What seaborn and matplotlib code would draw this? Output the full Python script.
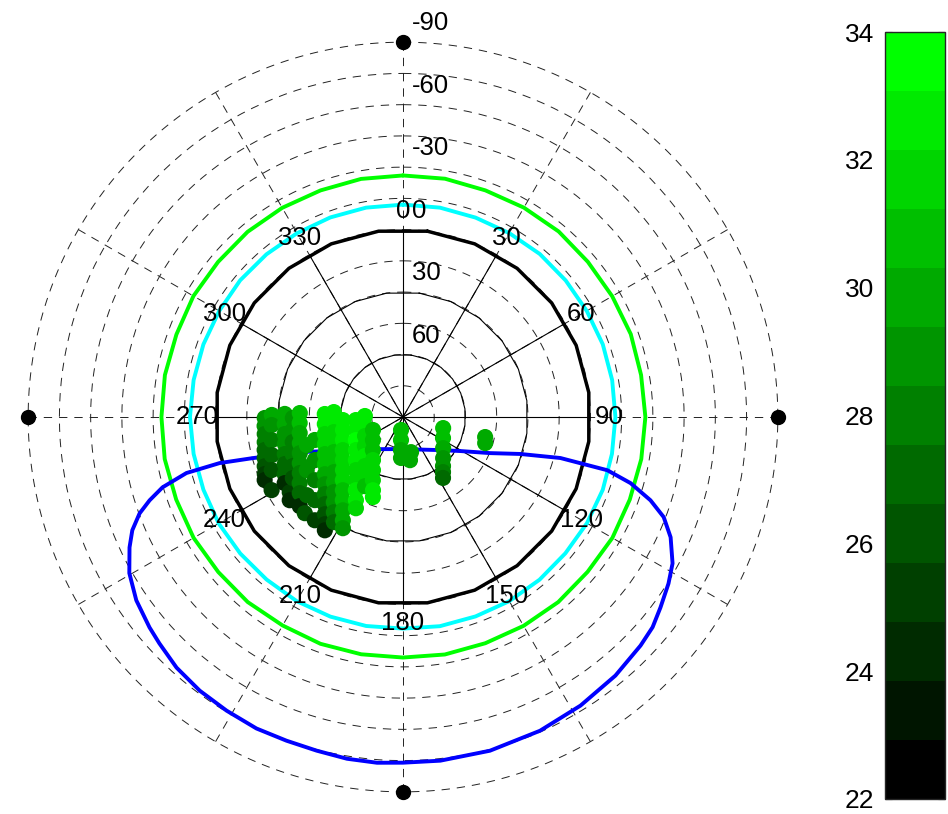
import numpy as np
import pandas as pd
import matplotlib
matplotlib.use('Agg')
import matplotlib.pyplot as plt
import seaborn as sns
from matplotlib.colors import ListedColormap, Normalize
from matplotlib.cm import ScalarMappable

sns.set_style('white')
plt.rcParams['font.family'] = ['Liberation Sans', 'DejaVu Sans']
plt.rcParams['lines.scale_dashes'] = False
plt.rcParams['text.color'] = 'black'
plt.rcParams['ytick.color'] = 'black'
plt.rcParams['xtick.color'] = 'black'

# observed points: azimuth (deg, clockwise from north), elevation (deg), value
dot_az = [269.6, 266.3, 263.0, 259.7, 256.6, 253.5, 250.4, 247.6, 245.5,
          270.9, 266.5, 260.0, 253.8, 248.0, 240.9,
          271.5, 266.6, 261.8, 257.1, 252.6, 248.3, 244.2, 240.8,
          236.4, 233.7,
          269.5, 263.3, 257.2, 251.4, 246.0, 241.0,
          272.2, 266.7, 261.2, 255.8, 250.7, 245.9, 241.5, 237.4, 233.6, 229.2,
          253.7, 241.1, 230.9, 225.6,
          255.4, 244.0, 234.4, 226.7, 220.5,
          272.2, 264.9, 257.7, 250.9, 244.6, 238.9, 233.8, 229.3, 225.4, 221.9, 218.8, 216.1, 214.6,
          274.1, 265.9, 257.7, 250.1, 243.1, 236.9, 231.4, 226.7, 222.6, 219.1, 216.0, 213.3,
          267.1, 257.8, 249.0, 241.2, 234.4, 228.5, 223.6, 219.4, 215.9, 212.8, 210.2, 208.4,
          266.3, 254.5, 243.9, 234.9, 227.5, 221.6, 216.7, 212.8, 209.5, 207.3,
          271.5, 256.7, 243.4, 232.7, 224.3, 217.8, 212.8, 208.8,
          246.6, 232.5, 222.3, 214.9, 209.5, 205.5, 202.3, 200.6,
          188.7, 185.0, 183.5, 182.8, 167.1, 170.8,
          105.4, 117.7, 127.8, 135.7, 140.8, 144.0, 146.7,
          103.7, 107.6]
dot_el = [23.6, 23.4, 23.1, 22.5, 21.7, 20.7, 19.5, 18.2, 17.0,
          27.0, 26.8, 26.0, 24.4, 22.0, 17.8,
          33.2, 33.1, 32.6, 31.8, 30.5, 28.9, 26.9, 24.9,
          24.7, 22.5,
          37.1, 36.7, 35.7, 34.1, 32.0, 29.5,
          40.4, 40.3, 39.8, 38.9, 37.5, 35.7, 33.6, 31.1, 28.4, 24.5,
          41.9, 37.2, 30.5, 24.0,
          46.2, 42.9, 37.9, 31.8, 24.8,
          52.4, 52.3, 51.6, 50.3, 48.5, 46.2, 43.5, 40.5, 37.3, 33.8, 30.1, 26.3, 23.9,
          56.7, 56.7, 56.0, 54.7, 52.8, 50.4, 47.6, 44.4, 41.0, 37.3, 33.5, 29.6,
          61.1, 60.5, 59.1, 57.0, 54.5, 51.5, 48.1, 44.5, 40.7, 36.7, 32.6, 29.3,
          67.3, 66.5, 64.8, 62.4, 59.3, 55.9, 52.2, 48.2, 44.1, 40.7,
          71.7, 71.2, 69.6, 67.0, 63.8, 60.2, 56.2, 52.1,
          74.3, 71.8, 68.5, 64.8, 60.7, 56.4, 52.0, 48.9,
          83.7, 78.9, 74.1, 70.3, 72.7, 69.0,
          70.0, 68.3, 65.6, 62.4, 59.6, 57.3, 55.0,
          49.4, 48.6]
dot_val = [29, 29, 28, 28, 27, 27, 26, 25, 24,
           30, 29, 28, 27, 26, 25,
           30, 30, 29, 29, 28, 27, 27, 24,
           25, 24,
           29, 29, 28, 28, 27, 26,
           31, 31, 30, 30, 29, 29, 28, 28, 27, 24,
           30, 29, 27, 26,
           30, 29, 28, 27, 25,
           33, 33, 32, 32, 31, 31, 30, 29, 28, 27, 26, 25, 24,
           33, 33, 32, 32, 31, 31, 30, 30, 29, 29, 28, 27,
           33, 33, 33, 32, 32, 32, 32, 31, 31, 30, 30, 29,
           33, 33, 34, 33, 33, 32, 32, 33, 33, 32,
           33, 33, 32, 32, 33, 32, 32, 31,
           31, 31, 31, 32, 32, 32, 33, 33,
           31, 31, 30, 30, 30, 30,
           31, 31, 30, 29, 29, 28, 27,
           30, 30]

# blue contour
blue_az = [180.0, 131.7, 120.8, 112.5, 107.5, 104.6, 104.6, 104.6, 106.2, 108.6,
           111.0, 114.2, 118.5, 122.1, 126.5, 130.1, 133.9, 140.6, 148.4, 156.4,
           165.4, 173.8, 180.0, 184.3, 189.3, 194.5, 199.8, 205.2, 211.0, 216.6,
           222.1, 227.1, 230.3, 235.5, 240.3, 244.5, 247.3, 249.9, 251.8, 253.7,
           255.5, 255.9, 254.7, 251.2, 238.1, 215.7, 180.0]
blue_el = [74.6, 66.1, 58.1, 44.7, 31.0, 11.9, 2.0, -11.4, -23.8, -35.4,
           -44.1, -50.9, -57.3, -60.5, -63.8, -66.7, -68.3, -70.7, -72.7, -74.4,
           -75.6, -76.0, -76.0, -76.5, -76.3, -75.5, -75.2, -75.3, -74.5, -73.7,
           -72.2, -69.7, -68.2, -65.4, -61.3, -55.5, -50.9, -44.7, -38.1, -30.3,
           -17.4, -0.8, 15.2, 37.6, 60.0, 71.0, 74.6]

# cyan and green rings
ring_az = [0, 10, 20, 30, 40, 50, 60, 70, 80, 90, 100, 110, 120, 130, 140, 150, 160, 170, 180,
           190, 200, 210, 220, 230, 240, 250, 260, 270, 280, 290, 300, 310, 320, 330, 340, 350, 360]
cyan_el = [-12.0, -12.1, -11.9, -12.0, -12.2, -12.0, -11.9, -12.1, -12.0, -12.0, -11.9, -12.1,
           -12.0, -11.8, -12.0, -12.1, -11.9, -12.0, -11.6, -11.9, -12.0, -12.1, -11.9, -12.0,
           -12.2, -12.0, -12.1, -12.3, -12.1, -12.0, -11.9, -12.1, -12.0, -11.9, -12.0, -12.1, -12.0]
green_el = [-26.0, -26.2, -25.8, -26.1, -26.3, -25.9, -26.0, -26.4, -26.1, -26.4, -26.2, -25.9,
            -26.1, -25.7, -26.0, -25.8, -25.6, -25.8, -25.5, -25.7, -25.9, -25.6, -26.0, -25.8,
            -26.1, -25.9, -26.2, -26.0, -26.1, -25.8, -26.2, -25.9, -26.1, -26.0, -25.8, -26.1, -26.0]

az_labels = ['0', '30', '60', '90', '120', '150', '180', '210', '240', '270', '300', '330']
el_labels = [-90, -60, -30, 0, 30, 60]
cbar_ticks = [22, 24, 26, 28, 30, 32, 34]
vmin, vmax = 22, 34

cmap = ListedColormap([(0, k / 12, 0) for k in range(13)])
norm = Normalize(vmin, vmax)

fig = plt.figure(figsize=(9.48, 8.14), dpi=100)
ax = fig.add_axes([0.0253, 0.0221, 0.7996, 0.9312], projection='polar')
ax.set_theta_zero_location('N')
ax.set_theta_direction(-1)
ax.set_ylim(0, 182)
ax.grid(False)
ax.spines['polar'].set_visible(False)

# outer dashed grid
full = np.linspace(0, 2 * np.pi, 361)
for r in range(15, 181, 15):
    ax.plot(full, np.full_like(full, r), color='#222222', lw=0.7, ls=(0, (6, 5)), zorder=1)
for a in range(0, 360, 30):
    t = np.deg2rad(a)
    ax.plot([t, t], [0, 180], color='#222222', lw=0.7, ls=(0, (6, 5)), zorder=1)
    ax.plot([t, t], [0, 90], color='black', lw=0.8, zorder=2)

# inner solid rings
poly = np.deg2rad(np.arange(7.5, 368, 15))
for r in (30, 60):
    ax.plot(poly, np.full(len(poly), r), color='black', lw=0.8, zorder=2)
ax.plot(poly, np.full(len(poly), 90), color='black', lw=2.5, zorder=3)

ax.plot(np.deg2rad(ring_az), 90 - np.array(cyan_el), color='#00ffff', lw=2.8, zorder=3)
ax.plot(np.deg2rad(ring_az), 90 - np.array(green_el), color='#00ff00', lw=2.8, zorder=3)
ax.plot(np.deg2rad(blue_az), 90 - np.array(blue_el), color='#0000ff', lw=2.8, zorder=3)

df = pd.DataFrame({'theta': np.deg2rad(dot_az), 'r': 90 - np.array(dot_el), 'val': dot_val})
sns.scatterplot(data=df, x='theta', y='r', hue='val', palette=cmap, hue_norm=norm,
                s=135, linewidth=0, legend=False, ax=ax, zorder=5)

ax.plot(np.deg2rad([0, 90, 180, 270]), [180] * 4, 'o', color='black', ms=10,
        clip_on=False, zorder=6)

for i, lbl in enumerate(az_labels):
    ax.text(np.deg2rad(30 * i), 99, lbl, ha='center', va='center', fontsize=18.5, zorder=7)
for el in el_labels:
    ax.annotate(str(el), xy=(0, 90 - el + 9), xytext=(6.5, 0), textcoords='offset points',
                ha='left', va='center', fontsize=18.5, annotation_clip=False, zorder=7)

ax.set_xticks([])
ax.set_yticks([])
ax.set_xlabel('')
ax.set_ylabel('')

cax = fig.add_axes([885 / 948, 15 / 814, 60 / 948, 767 / 814])
cb = fig.colorbar(ScalarMappable(norm=norm, cmap=cmap), cax=cax, ticks=cbar_ticks)
cb.outline.set_linewidth(1.0)
cax.yaxis.set_ticks_position('both')
cax.tick_params(axis='y', direction='in', length=5, width=0.8, labelleft=True,
                labelright=False, labelsize=19, pad=8)

fig.savefig('out.png', dpi=100)
